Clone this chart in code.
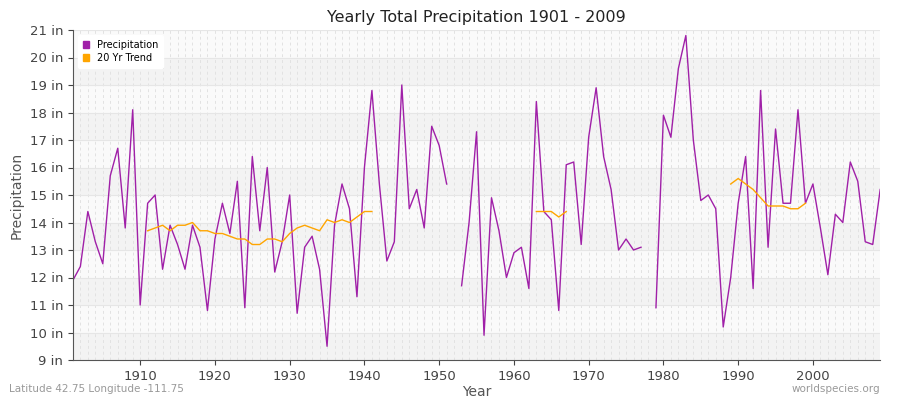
import numpy as np, pandas as pd, seaborn as sns, matplotlib
matplotlib.use("Agg")
import matplotlib.pyplot as plt
from matplotlib.patches import Patch

years = list(range(1901, 2010))
precip = [11.9,12.4,14.4,13.3,12.5,15.7,16.7,13.8,18.1,11.0,
14.7,15.0,12.3,13.9,13.2,12.3,13.9,13.1,10.8,13.4,
14.7,13.6,15.5,10.9,16.4,13.7,16.0,12.2,13.3,15.0,
10.7,13.1,13.5,12.3,9.5,13.9,15.4,14.5,11.3,16.0,
18.8,15.4,12.6,13.3,19.0,14.5,15.2,13.8,17.5,16.8,
15.4,np.nan,11.7,14.0,17.3,9.9,14.9,13.7,12.0,12.9,
13.1,11.6,18.4,14.4,14.1,10.8,16.1,16.2,13.2,17.1,
18.9,16.4,15.2,13.0,13.4,13.0,13.1,np.nan,10.9,17.9,
17.1,19.6,20.8,17.0,14.8,15.0,14.5,10.2,12.0,14.7,
16.4,11.6,18.8,13.1,17.4,14.7,14.7,18.1,14.7,15.4,
13.8,12.1,14.3,14.0,16.2,15.5,13.3,13.2,15.2]
trend_years = list(range(1911,1942)) + list(range(1963,1968)) + list(range(1989,2000))
trend_vals = [13.7,13.8,13.9,13.7,13.9,13.9,14.0,13.7,13.7,13.6,
13.6,13.5,13.4,13.4,13.2,13.2,13.4,13.4,13.3,13.6,
13.8,13.9,13.8,13.7,14.1,14.0,14.1,14.0,14.2,14.4,14.4,
14.4,14.4,14.4,14.2,14.4,
15.4,15.6,15.4,15.2,14.9,14.6,14.6,14.6,14.5,14.5,14.7]

def segments(x, y):
    d = pd.DataFrame({"Year": x, "v": y})
    d["seg"] = d["v"].isna().cumsum() + (d["Year"].diff().fillna(1) > 1).cumsum()
    return d.dropna()

pdf = segments(years, precip)
tdf = segments(trend_years, trend_vals)

fig, ax = plt.subplots(figsize=(9, 4), dpi=100)
fig.subplots_adjust(left=0.081, right=0.978, top=0.925, bottom=0.1)
for i, y0 in enumerate(range(9, 21)):
    ax.axhspan(y0, y0+1, color="#f3f3f3" if i % 2 == 0 else "#fafafa", zorder=0, lw=0)
for yr in range(1901, 2010):
    ax.axvline(yr, color="#e2e2e2", lw=0.7, ls=(0, (3, 3)), zorder=0.5)
for y0 in range(9, 22):
    ax.axhline(y0, color="#e6e6e6", lw=0.8, zorder=0.5)

sns.lineplot(data=pdf, x="Year", y="v", units="seg", estimator=None, ax=ax, color="#a020a8", lw=1.0)
sns.lineplot(data=tdf, x="Year", y="v", units="seg", estimator=None, ax=ax, color="#ffa500", lw=1.0)

ax.set_xlim(1901, 2009)
ax.set_ylim(9, 21)
ax.set_yticks(range(9, 22))
ax.set_yticklabels([f"{v} in" for v in range(9, 22)])
ax.set_xticks(range(1910, 2010, 10))
ax.tick_params(colors="#444444", labelsize=9.5)
for s in ["top", "right"]:
    ax.spines[s].set_visible(False)
ax.spines["left"].set_color("#555555")
ax.spines["bottom"].set_color("#555555")
ax.set_xlabel("Year", color="#555555", fontsize=10, labelpad=2)
ax.set_ylabel("Precipitation", color="#555555", fontsize=10)
ax.set_title("Yearly Total Precipitation 1901 - 2009", fontsize=11.5, color="#222222")

ax.legend(handles=[Patch(color="#a020a8"), Patch(color="#ffa500")], labels=["Precipitation", "20 Yr Trend"],
          loc="upper left", fontsize=7, frameon=True, handlelength=0.7, handleheight=0.7,
          borderpad=0.5, labelspacing=0.3, facecolor="white", edgecolor="white", framealpha=1)

fig.text(0.01, 0.02, "Latitude 42.75 Longitude -111.75", fontsize=7.5, color="#999999")
fig.text(0.978, 0.02, "worldspecies.org", fontsize=7.5, color="#999999", ha="right")
fig.savefig("out.png")
